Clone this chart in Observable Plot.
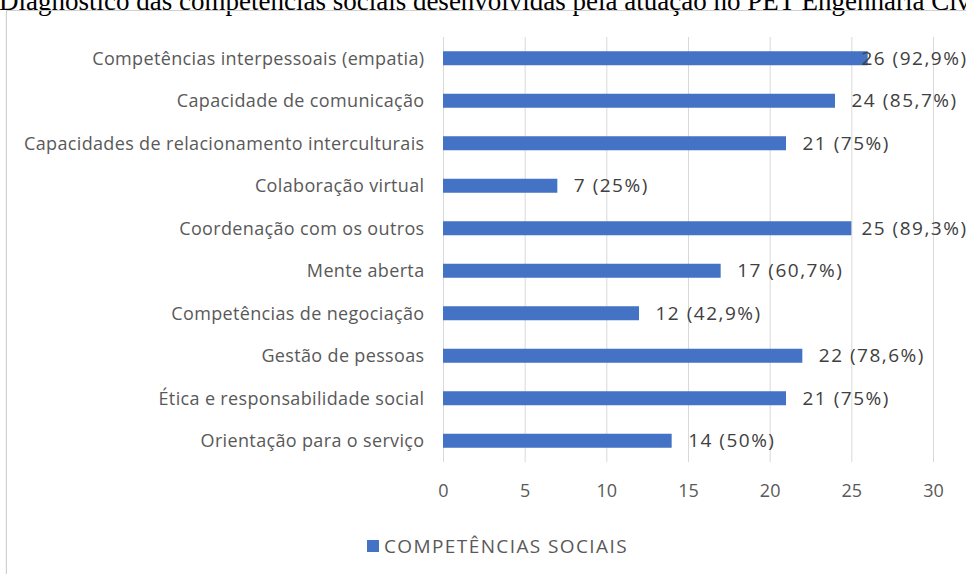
<!DOCTYPE html>
<html><head><meta charset="utf-8">
<script src="https://cdn.jsdelivr.net/npm/d3@7"></script>
<script src="https://cdn.jsdelivr.net/npm/@observablehq/plot@0.6"></script>
<style>
body{margin:0;background:#fff;}
#wrap{position:relative;width:966px;height:574px;overflow:hidden;background:#fff;}
#title{position:absolute;left:-1px;top:-14px;white-space:nowrap;font-family:"Liberation Serif","Times New Roman",serif;font-size:27px;line-height:30px;color:#000;}
#frame{position:absolute;left:6px;top:10px;width:980px;height:580px;border:1px solid #d0d0d0;box-shadow:0 1px 2px rgba(0,0,0,0.1);}
#chart{position:absolute;left:0;top:0;}
#legend{position:absolute;left:367px;top:533px;font-family:"Open Sans",sans-serif;font-size:19px;letter-spacing:1.4px;color:#595959;display:flex;align-items:center;}
#legend span.sw{display:inline-block;width:12px;height:12px;background:#4472C4;margin-right:5px;}
#chart g[aria-label="y-axis tick label"] text{letter-spacing:0.35px;}
#chart g[aria-label="text"] text{letter-spacing:1.5px;}
</style></head><body>
<div id="wrap">
<div id="title">Diagnóstico das competências sociais desenvolvidas pela atuação no PET Engenharia Civil</div>
<div id="frame"></div>
<div id="chart"></div>
<div id="legend"><span class="sw"></span><span id="legtext"></span></div>
</div>
<script>
const categories = [
  "Competências interpessoais (empatia)",
  "Capacidade de comunicação",
  "Capacidades de relacionamento interculturais",
  "Colaboração virtual",
  "Coordenação com os outros",
  "Mente aberta",
  "Competências de negociação",
  "Gestão de pessoas",
  "Ética e responsabilidade social",
  "Orientação para o serviço"
];
const counts = [26, 24, 21, 7, 25, 17, 12, 22, 21, 14];
const percents = ["92,9%", "85,7%", "75%", "25%", "89,3%", "60,7%", "42,9%", "78,6%", "75%", "50%"];
const xTicks = [0, 5, 10, 15, 20, 25, 30];
const seriesName = "COMPETÊNCIAS SOCIAIS";

document.getElementById("legtext").textContent = seriesName;

const data = categories.map((c, i) => ({cat: c, v: counts[i], label: `${counts[i]} (${percents[i]})`}));
const inner = data.filter(d => d.v < 25);
const edge = data.filter(d => d.v >= 25);

const chart = Plot.plot({
  width: 966,
  height: 510,
  marginLeft: 443,
  marginRight: 33,
  marginTop: 37,
  marginBottom: 48,
  style: {fontFamily: "Open Sans, sans-serif", fontSize: "18px", color: "#595959", background: "transparent", overflow: "visible"},
  x: {domain: [0, 30], ticks: xTicks, label: null},
  y: {domain: categories, padding: 0, round: false, label: null},
  marks: [
    Plot.ruleX(xTicks, {stroke: "#d9d9d9", strokeWidth: 1}),
    Plot.axisX({ticks: xTicks, tickSize: 0, tickPadding: 22, fontSize: 18, fill: "#595959"}),
    Plot.axisY({tickSize: 0, tickPadding: 19, fontSize: 18, fill: "#595959"}),
    Plot.barX(data, {x: "v", y: "cat", fill: "#4472C4", insetTop: 14.25, insetBottom: 14.25}),
    Plot.text(inner, {x: "v", y: "cat", text: "label", textAnchor: "start", dx: 16, fill: "#404040", fontSize: 19}),
    Plot.text(edge, {x: () => 30, y: "cat", text: "label", textAnchor: "end", dx: 34, fill: "#404040", fontSize: 19})
  ]
});
document.getElementById("chart").appendChild(chart);
</script>
</body></html>
